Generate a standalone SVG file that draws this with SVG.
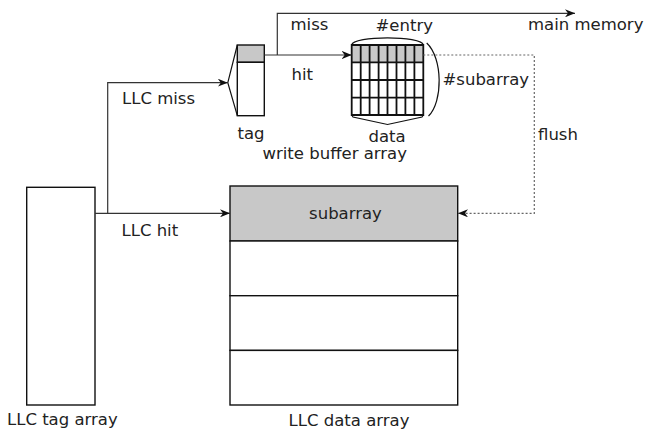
<svg xmlns="http://www.w3.org/2000/svg" width="646" height="432" viewBox="0 0 646 432">
<style>
text{font-family:"DejaVu Sans","Liberation Sans",sans-serif;font-size:16.5px;fill:#222}
.box{fill:#fff;stroke:#111;stroke-width:1.4}
.gray{fill:#c8c8c8;stroke:#111;stroke-width:1.4}
.ln{fill:none;stroke:#333;stroke-width:1.2}
.dash{fill:none;stroke:#666;stroke-width:1.2;stroke-dasharray:2 2}
.brace{fill:none;stroke:#111;stroke-width:1.2}
.grid{fill:none;stroke:#111;stroke-width:1.8}
</style>
<defs>
<marker id="ah" viewBox="0 0 10 8" refX="10" refY="4" markerWidth="10" markerHeight="8" markerUnits="userSpaceOnUse" orient="auto">
<path d="M0,0 L10,4 L0,8 L3,4 Z" fill="#111"/>
</marker>
</defs>
<g id="llc-tag-array">
<rect class="box" x="26.7" y="187.3" width="68.3" height="217.7"/>
<text x="7" y="425">LLC tag array</text>
</g>
<g id="llc-data-array">
<rect class="gray" x="230" y="186" width="227.7" height="55"/>
<rect class="box" x="230" y="241" width="227.7" height="54.7"/>
<rect class="box" x="230" y="295.7" width="227.7" height="54.7"/>
<rect class="box" x="230" y="350.4" width="227.7" height="54.6"/>
<text x="345.5" y="219" text-anchor="middle">subarray</text>
<text x="349" y="426" text-anchor="middle">LLC data array</text>
</g>
<g id="tag">
<rect class="gray" x="237.3" y="45" width="27" height="17.3"/>
<rect class="box" x="237.3" y="62.3" width="27" height="53.4"/>
<path class="brace" d="M237.3,45 L227.8,82.7 L237.3,115.7"/>
<text x="237.5" y="139">tag</text>
</g>
<g id="data">
<rect x="351.7" y="45" width="71.6" height="17.3" fill="#c8c8c8"/>
<rect x="351.7" y="62.3" width="71.6" height="52.7" fill="#fff"/>
<path class="grid" d="M351.7,45 H423.3 V115 H351.7 Z M351.7,62.3 H423.3 M351.7,80 H423.3 M351.7,97.6 H423.3 M360.7,45 V115 M369.6,45 V115 M378.6,45 V115 M387.5,45 V115 M396.5,45 V115 M405.4,45 V115 M414.4,45 V115"/>
<path class="brace" d="M351.7,45 C352.5,35.5 422.5,35.5 423.3,45"/>
<path class="brace" d="M351.7,115 L353,117 L387.5,124.5 L422,117 L423.3,115"/>
<path class="brace" d="M426.7,43 C443,58 443,102 428.5,116"/>
<text x="375.5" y="31">#entry</text>
<text x="368.5" y="141.5">data</text>
<text x="442.5" y="85">#subarray</text>
<text x="262.5" y="159">write buffer array</text>
</g>
<g id="main-memory">
<text x="528" y="30">main memory</text>
</g>
<g id="connectors">
<path class="ln" d="M95,213.3 H230" marker-end="url(#ah)"/>
<path class="ln" d="M107.7,213.3 V82.7 H227.8" marker-end="url(#ah)"/>
<path class="ln" d="M264.3,55 H351.7" marker-end="url(#ah)"/>
<path class="ln" d="M277.3,55 V13.3 H575" marker-end="url(#ah)"/>
<path class="dash" d="M423.3,55 H534.3 V213.3 H458" marker-end="url(#ah)"/>
<text x="290.5" y="30">miss</text>
<text x="291.5" y="80">hit</text>
<text x="538" y="140">flush</text>
<text x="122" y="104">LLC miss</text>
<text x="121.5" y="235.7">LLC hit</text>
</g>
</svg>
